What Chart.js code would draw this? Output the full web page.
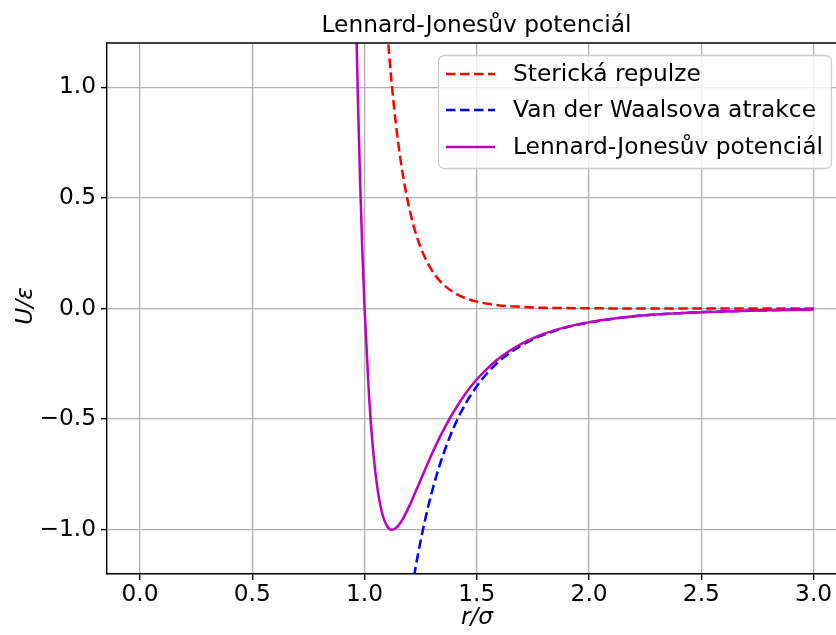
<!DOCTYPE html>
<html>
<head>
<meta charset="utf-8">
<script src="https://cdn.jsdelivr.net/npm/chart.js@4"></script>
<style>
  html, body { margin: 0; padding: 0; overflow: hidden; background: #fff; }
  #c { position: absolute; left: 0; top: 0; }
</style>
</head>
<body>
<canvas id="c" width="860" height="635"></canvas>
<script>
const titleText = "Lennard-Jonesův potenciál";
const seriesNames = ["Sterická repulze", "Van der Waalsova atrakce", "Lennard-Jonesův potenciál"];

// r/sigma sample points
const rValues = [0.90, 0.95, 0.96, 0.97, 0.98, 0.99, 1.00, 1.02, 1.04, 1.06, 1.08, 1.10, 1.12, 1.14, 1.16, 1.18,
  1.20, 1.22, 1.25, 1.28, 1.30, 1.32, 1.35, 1.40, 1.45, 1.50, 1.55, 1.60, 1.70, 1.80, 1.90, 2.00,
  2.20, 2.40, 2.60, 2.80, 3.00];
const repulsion = [14.163, 7.403, 6.528, 5.765, 5.097, 4.513, 4.000, 3.154, 2.498, 1.988, 1.589, 1.275, 1.027, 0.830, 0.674, 0.549,
  0.449, 0.368, 0.275, 0.207, 0.172, 0.143, 0.109, 0.071, 0.046, 0.031, 0.021, 0.014, 0.007, 0.003, 0.002, 0.001,
  0.000, 0.000, 0.000, 0.000, 0.000];
const attraction = [-7.527, -5.441, -5.110, -4.802, -4.516, -4.249, -4.000, -3.552, -3.161, -2.820, -2.521, -2.258, -2.027, -1.822, -1.642, -1.482,
  -1.340, -1.213, -1.049, -0.909, -0.829, -0.756, -0.661, -0.531, -0.430, -0.351, -0.288, -0.238, -0.166, -0.118, -0.085, -0.063,
  -0.035, -0.021, -0.013, -0.008, -0.005];
const ljPotential = [6.636, 1.961, 1.418, 0.963, 0.582, 0.264, 0.000, -0.398, -0.663, -0.832, -0.932, -0.983, -1.000, -0.992, -0.968, -0.933,
  -0.891, -0.845, -0.774, -0.703, -0.657, -0.613, -0.552, -0.461, -0.384, -0.320, -0.268, -0.224, -0.159, -0.114, -0.083, -0.062,
  -0.035, -0.021, -0.013, -0.008, -0.005];

const xTicks = [0.0, 0.5, 1.0, 1.5, 2.0, 2.5, 3.0];
const yTicks = [-1.0, -0.5, 0.0, 0.5, 1.0];

const FONT = "DejaVu Sans";
const FS = 23.3;
const LW = 2.5;
const DASH = [9.5, 4.5];

const pts = (ys) => rValues.map((x, i) => ({ x: x, y: ys[i] }));
const fmt = (v) => (v < 0 ? "\u2212" : "") + Math.abs(v).toFixed(1);

const decor = {
  id: "decor",
  afterDraw(chart) {
    const { ctx, chartArea: a } = chart;
    ctx.save();
    // top spine
    ctx.strokeStyle = "#000";
    ctx.lineWidth = 1.4;
    ctx.beginPath();
    ctx.moveTo(a.left, a.top);
    ctx.lineTo(a.right, a.top);
    ctx.stroke();

    // title
    ctx.fillStyle = "#000";
    ctx.font = FS + "px '" + FONT + "'";
    ctx.textAlign = "center";
    ctx.textBaseline = "alphabetic";
    ctx.fillText(titleText, 476.5, 32);

    // axis labels
    ctx.font = "italic " + FS + "px '" + FONT + "'";
    ctx.textBaseline = "middle";
    ctx.fillText("r/\u03c3", 477, 618);
    ctx.save();
    ctx.translate(26, 306);
    ctx.rotate(-Math.PI / 2);
    ctx.fillText("U/\u03b5", 0, 0);
    ctx.restore();

    // legend
    ctx.beginPath();
    ctx.roundRect(438.5, 55.5, 393, 113, 6);
    ctx.fillStyle = "rgba(255,255,255,0.8)";
    ctx.fill();
    ctx.strokeStyle = "#cccccc";
    ctx.lineWidth = 1.3;
    ctx.stroke();

    const rows = [74, 110, 147];
    chart.data.datasets.forEach((ds, i) => {
      ctx.strokeStyle = ds.borderColor;
      ctx.lineWidth = LW;
      ctx.setLineDash(ds.borderDash || []);
      ctx.beginPath();
      ctx.moveTo(446, rows[i]);
      ctx.lineTo(495, rows[i]);
      ctx.stroke();
      ctx.setLineDash([]);
      ctx.fillStyle = "#000";
      ctx.font = FS + "px '" + FONT + "'";
      ctx.textAlign = "left";
      ctx.textBaseline = "middle";
      ctx.fillText(ds.label, 513, rows[i] + 1);
    });
    ctx.restore();
  }
};

const axisCommon = {
  type: "linear",
  border: { display: true, color: "#000", width: 1.4 },
  grid: { color: "#b0b0b0", lineWidth: 1.3, tickLength: 6, tickColor: "#000", tickWidth: 1.4 },
  ticks: { color: "#000", font: { family: FONT, size: FS }, callback: (v) => fmt(v) }
};

new Chart(document.getElementById("c"), {
  type: "scatter",
  data: {
    datasets: [
      {
        label: seriesNames[0],
        data: pts(repulsion),
        borderColor: "#ff0000",
        borderDash: DASH,
        order: 3
      },
      {
        label: seriesNames[1],
        data: pts(attraction),
        borderColor: "#0000ff",
        borderDash: DASH,
        order: 2
      },
      {
        label: seriesNames[2],
        data: pts(ljPotential),
        borderColor: "#bf00bf",
        order: 1
      }
    ].map((d) => Object.assign(d, {
      showLine: true,
      pointRadius: 0,
      borderWidth: LW,
      fill: false,
      cubicInterpolationMode: "monotone"
    }))
  },
  options: {
    responsive: false,
    animation: false,
    devicePixelRatio: 1,
    layout: { padding: { top: 43, right: 12, bottom: 0, left: 0 } },
    plugins: {
      legend: { display: false },
      title: { display: false },
      tooltip: { enabled: false }
    },
    scales: {
      x: Object.assign({}, axisCommon, {
        min: -0.147,
        max: 3.153,
        ticks: Object.assign({}, axisCommon.ticks, { padding: 1, maxRotation: 0 }),
        afterBuildTicks: (s) => { s.ticks = xTicks.map((v) => ({ value: v })); },
        afterFit: (s) => { s.height = 61; }
      }),
      y: Object.assign({}, axisCommon, {
        min: -1.2,
        max: 1.2,
        ticks: Object.assign({}, axisCommon.ticks, { padding: 5 }),
        afterBuildTicks: (s) => { s.ticks = yTicks.map((v) => ({ value: v })); },
        afterFit: (s) => { s.width = 107; }
      })
    }
  },
  plugins: [decor]
});
</script>
</body>
</html>
